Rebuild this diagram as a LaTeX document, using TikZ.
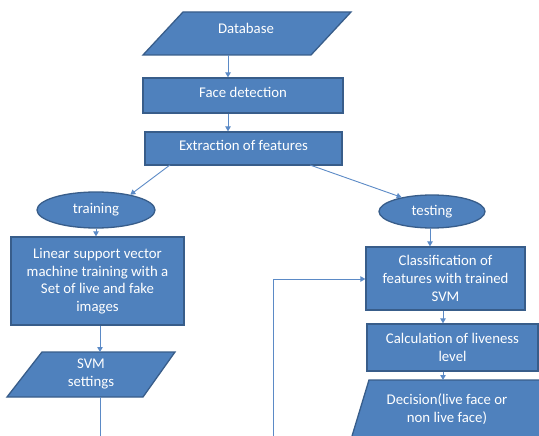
\documentclass[tikz,border=0pt]{standalone}
\usepackage{fontspec}
\setmainfont{Carlito}
\usetikzlibrary{arrows.meta,shapes.geometric}
\definecolor{boxfill}{HTML}{4F81BD}
\definecolor{boxline}{HTML}{385D8A}
\definecolor{connc}{HTML}{5B8AC6}
\begin{document}
\begin{tikzpicture}[x=1pt,y=-1pt,
  box/.style={draw=boxline, fill=boxfill, line width=1.3pt, text=white,
    font=\fontsize{14.8}{17.6}\selectfont, align=center, inner sep=0pt},
  pbox/.style={draw=boxline, fill=boxfill, line width=1.3pt},
  ptext/.style={text=white, font=\fontsize{14.8}{17.6}\selectfont, align=center, inner sep=0pt},
  conn/.style={draw=connc, line width=0.9pt},
  arr/.style={conn, -{Triangle[width=5.5pt,length=5pt]}}]
\clip (0,0) rectangle (539,436);
% Database
\draw[pbox] (183,12) -- (351,12) -- (311,55) -- (143,55) -- cycle;
\node[ptext] (db) at (246,28) {Database};
\coordinate (dbb) at (228,55);
% Face detection
\node[box, minimum width=200pt, minimum height=35pt, text depth=6pt] (fd) at (243,95.5) {Face detection};
% Extraction
\node[box, minimum width=197pt, minimum height=33pt, text depth=6pt] (ex) at (243.5,148.5) {Extraction of features};
\coordinate (exl) at (170,165);
\coordinate (exr) at (310,165);
% training
\node[box, ellipse, minimum width=118pt, minimum height=36pt] (tr) at (96,210) {training};
% Linear SVM
\node[box, minimum width=173pt, minimum height=88pt] (lin) at (97.5,281) {Linear support vector\\machine training with a\\Set of live and fake\\images};
% SVM settings
\draw[pbox] (42,352) -- (175,352) -- (143,397) -- (7,397) -- cycle;
\node[ptext] (svm) at (91,374) {SVM\\settings};
\coordinate (svmt) at (100,352);
\coordinate (svmb) at (100,397);
\coordinate (svmend) at (100,440);
% testing
\node[box, ellipse, minimum width=106pt, minimum height=33pt] (te) at (432,211.5) {testing};
% Classification
\node[box, minimum width=159pt, minimum height=63pt] (cl) at (445.5,278.5) {Classification of\\features with trained\\SVM};
% Calculation
\node[box, minimum width=171pt, minimum height=47pt] (ca) at (452.5,347.5) {Calculation of liveness\\level};
% Decision
\draw[pbox] (369,380) -- (562,380) -- (542,446) -- (349,446) -- cycle;
\node[ptext] (de) at (447,409) {Decision(live face or\\non live face)};
\coordinate (det) at (443,380);
\coordinate (fbstart) at (273,440);
\coordinate (fbcorner) at (273,279);
% connectors
\draw[arr] (dbb) -- (dbb |- fd.north);
\draw[arr] (dbb |- fd.south) -- (dbb |- ex.north);
\draw[arr] (exl) -- (tr.24);
\draw[arr] (exr) -- (te.155);
\draw[arr] (tr.south) -- (tr.south |- lin.north);
\draw[arr] (svmt |- lin.south) -- (svmt);
\draw[conn] (svmb) -- (svmend);
\draw[arr] (430,228) coordinate (teb) -- (teb |- cl.north);
\draw[arr] (det |- cl.south) -- (det |- ca.north);
\draw[arr] (det |- ca.south) -- (det);
\draw[arr] (fbstart) -- (fbcorner) -- (fbcorner -| cl.west);
\end{tikzpicture}
\end{document}
